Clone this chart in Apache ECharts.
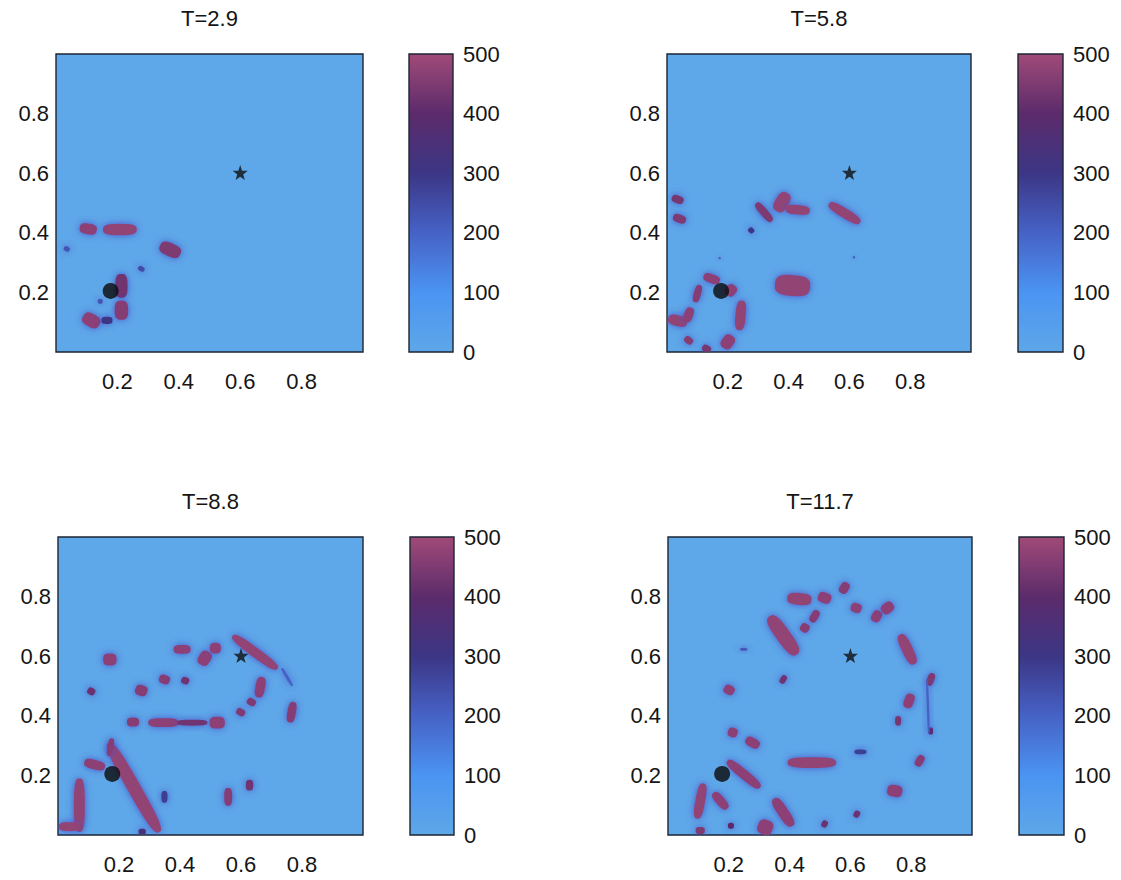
<!DOCTYPE html>
<html><head><meta charset="utf-8">
<script src="https://cdn.jsdelivr.net/npm/echarts@6.0.0/dist/echarts.min.js"></script>
<style>html,body{margin:0;padding:0;background:#fff}#c{width:1121px;height:880px}</style>
</head><body><div id="c"></div>
<script>
// ---------------- data ----------------
const titles = ['T=2.9', 'T=5.8', 'T=8.8', 'T=11.7'];
const axisTicks = [0.2, 0.4, 0.6, 0.8];
const colorbarTicks = [0, 100, 200, 300, 400, 500];
const sourcePoint = [0.178, 0.205];   // black dot
const targetPoint = [0.600, 0.602];   // black star
// high-value patches: [centerX, centerY, halfLength, halfWidth, angleDeg, value]
const blobs1 = [
  [0.105,0.413,0.028,0.018,-10,470],
  [0.208,0.411,0.055,0.019,0,480],
  [0.372,0.343,0.036,0.022,-25,450],
  [0.035,0.346,0.010,0.008,-30,230],
  [0.278,0.279,0.011,0.008,-30,250],
  [0.213,0.222,0.020,0.040,0,430],
  [0.213,0.140,0.022,0.032,0,460],
  [0.115,0.106,0.030,0.022,-30,470],
  [0.166,0.106,0.018,0.012,0,300],
  [0.144,0.170,0.008,0.008,0,230]
];
const blobs2 = [
  [0.035,0.512,0.020,0.013,-20,440],
  [0.041,0.447,0.022,0.014,-20,450],
  [0.319,0.469,0.040,0.013,-50,450],
  [0.277,0.408,0.010,0.009,-45,300],
  [0.378,0.503,0.022,0.035,-30,480],
  [0.430,0.477,0.040,0.016,-5,480],
  [0.584,0.466,0.060,0.016,-32,480],
  [0.173,0.315,0.004,0.004,0,200],
  [0.615,0.318,0.004,0.004,0,200],
  [0.413,0.223,0.058,0.035,-5,480],
  [0.147,0.246,0.028,0.015,-20,470],
  [0.210,0.207,0.018,0.020,-40,470],
  [0.100,0.196,0.012,0.030,-15,460],
  [0.242,0.123,0.017,0.050,-5,480],
  [0.200,0.034,0.020,0.025,-35,470],
  [0.035,0.105,0.032,0.018,-15,480],
  [0.071,0.125,0.015,0.025,-20,470],
  [0.071,0.039,0.015,0.012,-40,460],
  [0.130,0.011,0.015,0.012,-30,440]
];
const blobs3 = [
  [0.170,0.589,0.022,0.020,0,470],
  [0.109,0.482,0.013,0.012,-30,420],
  [0.273,0.485,0.020,0.018,-20,460],
  [0.349,0.522,0.018,0.015,-20,460],
  [0.417,0.518,0.013,0.012,-20,430],
  [0.407,0.623,0.028,0.015,0,470],
  [0.481,0.593,0.020,0.025,-30,470],
  [0.516,0.627,0.018,0.018,0,470],
  [0.646,0.613,0.092,0.016,-37,480],
  [0.663,0.496,0.016,0.035,-10,470],
  [0.634,0.446,0.015,0.012,-30,450],
  [0.599,0.412,0.015,0.012,-30,450],
  [0.766,0.412,0.014,0.035,-10,460],
  [0.751,0.530,0.035,0.005,-60,200],
  [0.246,0.379,0.020,0.015,0,460],
  [0.346,0.377,0.050,0.015,0,470],
  [0.440,0.377,0.050,0.010,0,430],
  [0.522,0.377,0.025,0.020,0,470],
  [0.249,0.159,0.171,0.022,-61,480],
  [0.172,0.295,0.010,0.030,-10,460],
  [0.120,0.236,0.035,0.016,-15,470],
  [0.070,0.100,0.018,0.090,0,480],
  [0.036,0.028,0.033,0.015,0,480],
  [0.349,0.128,0.010,0.020,0,280],
  [0.558,0.128,0.013,0.030,0,460],
  [0.628,0.167,0.012,0.018,0,430],
  [0.276,0.011,0.012,0.010,0,350]
];
const blobs4 = [
  [0.432,0.792,0.040,0.020,-5,480],
  [0.515,0.796,0.022,0.018,-20,470],
  [0.580,0.829,0.015,0.020,-30,460],
  [0.619,0.762,0.018,0.016,-20,470],
  [0.482,0.734,0.013,0.022,-30,460],
  [0.450,0.695,0.015,0.015,-30,460],
  [0.379,0.670,0.078,0.024,-55,480],
  [0.686,0.734,0.016,0.020,-30,470],
  [0.722,0.762,0.018,0.022,-50,470],
  [0.787,0.623,0.055,0.018,-65,480],
  [0.864,0.522,0.012,0.022,-20,450],
  [0.793,0.450,0.016,0.025,-20,470],
  [0.757,0.383,0.010,0.016,0,440],
  [0.864,0.349,0.008,0.012,0,400],
  [0.828,0.249,0.013,0.020,-30,460],
  [0.746,0.148,0.025,0.020,-10,470],
  [0.621,0.070,0.010,0.012,-30,420],
  [0.633,0.279,0.020,0.008,0,280],
  [0.515,0.037,0.010,0.012,-30,420],
  [0.379,0.522,0.010,0.015,-30,430],
  [0.201,0.487,0.018,0.016,-30,470],
  [0.249,0.623,0.012,0.005,0,220],
  [0.213,0.344,0.016,0.016,-20,470],
  [0.278,0.310,0.025,0.016,-30,470],
  [0.473,0.243,0.080,0.018,0,480],
  [0.249,0.204,0.070,0.016,-40,470],
  [0.106,0.114,0.016,0.060,-10,480],
  [0.172,0.115,0.035,0.015,-50,470],
  [0.106,0.015,0.015,0.012,0,450],
  [0.207,0.031,0.010,0.010,0,400],
  [0.320,0.026,0.025,0.025,-20,470],
  [0.379,0.076,0.055,0.018,-57,470],
  [0.855,0.430,0.090,0.004,-88,200]
];
const panelBlobs = [blobs1, blobs2, blobs3, blobs4];

// ---------------- layout & style ----------------
const colormap = ['#5ea7e8', '#4b94f2', '#4662c6', '#3c3685', '#5c2b6b', '#a04a78'];
const bgColor = colormap[0];
const frameColor = '#1c2533';
const FONT = 'Liberation Sans';
const panels = [
  {left: 56,  top: 54,  width: 307, height: 298, cbLeft: 409,  cbWidth: 44},
  {left: 667, top: 54,  width: 304, height: 298, cbLeft: 1018, cbWidth: 45},
  {left: 58,  top: 537, width: 305, height: 298, cbLeft: 410,  cbWidth: 44},
  {left: 668, top: 537, width: 304, height: 298, cbLeft: 1019, cbWidth: 45}
];
const starPath = 'path://M0,-10L2.35,-3.24L9.51,-3.09L3.8,1.24L5.88,8.09L0,4L-5.88,8.09L-3.8,1.24L-9.51,-3.09L-2.35,-3.24Z';

function blobItem(params, api) {
  const cx = api.value(0), cy = api.value(1), rx = api.value(2), ry = api.value(3);
  const ang = api.value(4) * Math.PI / 180;
  const ca = Math.cos(ang), sa = Math.sin(ang), n = 3, pts = [];
  for (let i = 0; i < 40; i++) {
    const t = i / 40 * 2 * Math.PI, c = Math.cos(t), s = Math.sin(t);
    const lx = rx * Math.sign(c) * Math.pow(Math.abs(c), 2 / n);
    const ly = ry * Math.sign(s) * Math.pow(Math.abs(s), 2 / n);
    pts.push(api.coord([cx + lx * ca - ly * sa, cy + lx * sa + ly * ca]));
  }
  return {type: 'polygon', shape: {points: pts},
    style: {fill: api.visual('color'), shadowBlur: 7, shadowColor: 'rgba(72,76,200,0.9)'}};
}

const cbStops = colormap.map((c, i) => ({offset: i / (colormap.length - 1), color: c}));
function colorbarItem(params, api) {
  const p0 = api.coord([0, api.value(0)]), p1 = api.coord([1, api.value(1)]);
  return {type: 'rect', shape: {x: p0[0], y: p1[1], width: p1[0] - p0[0], height: p0[1] - p1[1]},
    style: {fill: new echarts.graphic.LinearGradient(0, 1, 0, 0, cbStops), stroke: frameColor, lineWidth: 1.4}};
}

const grid = [], xAxis = [], yAxis = [], series = [], graphic = [], blobSeriesIdx = [];
const tickLabel = {fontFamily: FONT, fontSize: 22, color: '#151515'};
const fmt = v => axisTicks.some(t => Math.abs(t - v) < 1e-9) ? v.toFixed(1) : '';
panels.forEach((p, k) => {
  const g = grid.length;
  grid.push({left: p.left, top: p.top, width: p.width, height: p.height, show: true,
    backgroundColor: bgColor, borderColor: frameColor, borderWidth: 1.4, containLabel: false});
  xAxis.push({type: 'value', gridIndex: g, min: 0, max: 1, interval: 0.2,
    axisLine: {show: false}, axisTick: {show: false}, splitLine: {show: false},
    axisLabel: Object.assign({margin: 18, formatter: fmt}, tickLabel)});
  yAxis.push({type: 'value', gridIndex: g, min: 0, max: 1, interval: 0.2,
    axisLine: {show: false}, axisTick: {show: false}, splitLine: {show: false},
    axisLabel: Object.assign({margin: 7, formatter: fmt}, tickLabel)});
  blobSeriesIdx.push(series.length);
  series.push({type: 'custom', xAxisIndex: g, yAxisIndex: g, clip: true, renderItem: blobItem,
    encode: {x: 0, y: 1}, data: panelBlobs[k], silent: true, z: 2});
  series.push({type: 'scatter', xAxisIndex: g, yAxisIndex: g, data: [sourcePoint], symbol: 'circle',
    symbolSize: 16, itemStyle: {color: '#0b0b0b'}, silent: true, z: 5});
  series.push({type: 'scatter', xAxisIndex: g, yAxisIndex: g, data: [targetPoint], symbol: starPath,
    symbolSize: 15, itemStyle: {color: '#101010'}, silent: true, z: 5});
  // colorbar
  const cg = grid.length;
  grid.push({left: p.cbLeft, top: p.top, width: p.cbWidth, height: p.height, show: false});
  xAxis.push({type: 'value', gridIndex: cg, min: 0, max: 1, show: false});
  yAxis.push({type: 'value', gridIndex: cg, min: colorbarTicks[0], max: colorbarTicks[colorbarTicks.length - 1],
    interval: colorbarTicks[1] - colorbarTicks[0], position: 'right',
    axisLine: {show: false}, splitLine: {show: false}, axisTick: {show: false},
    axisLabel: Object.assign({margin: 10}, tickLabel)});
  series.push({type: 'custom', xAxisIndex: cg, yAxisIndex: cg, renderItem: colorbarItem,
    data: [[colorbarTicks[0], colorbarTicks[colorbarTicks.length - 1]]], silent: true, z: 1});
  graphic.push({type: 'text', x: p.left + p.width / 2, y: p.top - 36,
    style: {text: titles[k], fontFamily: FONT, fontSize: 22, fill: '#151515', textAlign: 'center', textVerticalAlign: 'middle'}});
});

const chart = echarts.init(document.getElementById('c'), null, {renderer: 'svg'});
chart.setOption({
  animation: false,
  backgroundColor: '#ffffff',
  grid, xAxis, yAxis, series, graphic,
  visualMap: {type: 'continuous', show: false, min: 0, max: 500, dimension: 5,
    seriesIndex: blobSeriesIdx, inRange: {color: colormap}}
});
</script></body></html>
